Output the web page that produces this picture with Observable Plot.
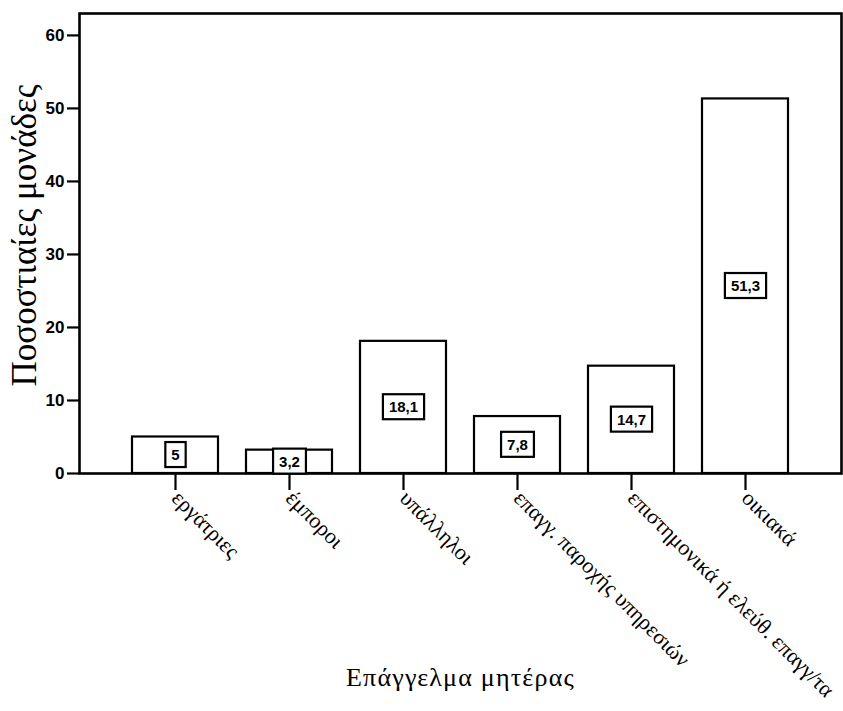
<!DOCTYPE html>
<html>
<head>
<meta charset="utf-8">
<script src="https://cdn.jsdelivr.net/npm/d3@7"></script>
<script src="https://cdn.jsdelivr.net/npm/@observablehq/plot@0.6"></script>
<style>
  html, body { margin: 0; padding: 0; background: #fff; }
  svg { display: block; }
</style>
</head>
<body>
<div id="chart"></div>
<script>
const categories = [
  "εργάτριες",
  "έμποροι",
  "υπάλληλοι",
  "επαγγ. παροχής υπηρεσιών",
  "επιστημονικά ή ελεύθ. επαγγ/τα",
  "οικιακά"
];
const values = [5, 3.2, 18.1, 7.8, 14.7, 51.3];
const yTicks = [0, 10, 20, 30, 40, 50, 60];
const xLabel = "Επάγγελμα μητέρας";
const yLabel = "Ποσοστιαίες μονάδες";

const data = categories.map((c, i) => ({cat: c, value: values[i], label: String(values[i]).replace(".", ",")}));

const serif = "'Liberation Serif', 'Times New Roman', serif";
const sans = "'Liberation Sans', Arial, sans-serif";

const plot = Plot.plot({
  width: 843,
  height: 711,
  marginTop: 13,
  marginLeft: 79,
  marginRight: 2,
  marginBottom: 238,
  style: {background: "white", color: "black", overflow: "visible"},
  x: {domain: categories, paddingInner: 0.25, paddingOuter: 0.455, label: null},
  y: {domain: [0, 63], label: null},
  marks: [
    Plot.barY(data, {x: "cat", y: "value", fill: "white", stroke: "black", strokeWidth: 2.2}),
    Plot.frame({stroke: "black", strokeWidth: 2.6}),
    Plot.axisY({ticks: yTicks, tickSize: 12, tickPadding: 3, strokeWidth: 2.2, fontSize: 17, fontWeight: "bold", fontFamily: sans, label: null, tickFormat: d => String(d)}),
    Plot.axisX({tickSize: 17, tickPadding: 4, tickRotate: 45, strokeWidth: 2.2, fontSize: 22, fontFamily: serif, label: null}),
    Plot.text(data, {x: "cat", y: d => d.value / 2, text: "label", fontSize: 15, fontWeight: "bold", fontFamily: sans, fill: "black"}),
    Plot.text([yLabel], {frameAnchor: "left", textAnchor: "middle", rotate: -90, dx: -55, dy: -8, fontSize: 35, fontFamily: serif, fill: "black"}),
    Plot.text([xLabel], {frameAnchor: "bottom", textAnchor: "middle", dy: 212, fontSize: 26, fontFamily: serif, fill: "black"})
  ]
});

document.getElementById("chart").appendChild(plot);

const svgNS = "http://www.w3.org/2000/svg";
const labelSet = new Set(data.map(d => d.label));
Array.from(plot.querySelectorAll("text")).forEach(t => {
  const s = t.textContent.trim();
  // wider tracking for the x-axis title, as in the reference
  if (s === xLabel) { t.setAttribute("letter-spacing", "1.2"); return; }
  if (!labelSet.has(s)) return;
  if (t.closest('g[aria-label^="y-axis"]') || t.closest('g[aria-label^="x-axis"]')) return;
  // white boxes with black borders behind the value labels
  let b;
  try { b = t.getBBox(); } catch (e) { return; }
  const padX = 6, padY = 4;
  const r = document.createElementNS(svgNS, "rect");
  r.setAttribute("x", b.x - padX);
  r.setAttribute("y", b.y - padY);
  r.setAttribute("width", b.width + 2 * padX);
  r.setAttribute("height", b.height + 2 * padY);
  r.setAttribute("fill", "white");
  r.setAttribute("stroke", "black");
  r.setAttribute("stroke-width", 2.2);
  const tr = t.getAttribute("transform");
  if (tr) r.setAttribute("transform", tr);
  t.parentNode.insertBefore(r, t);
});
</script>
</body>
</html>
